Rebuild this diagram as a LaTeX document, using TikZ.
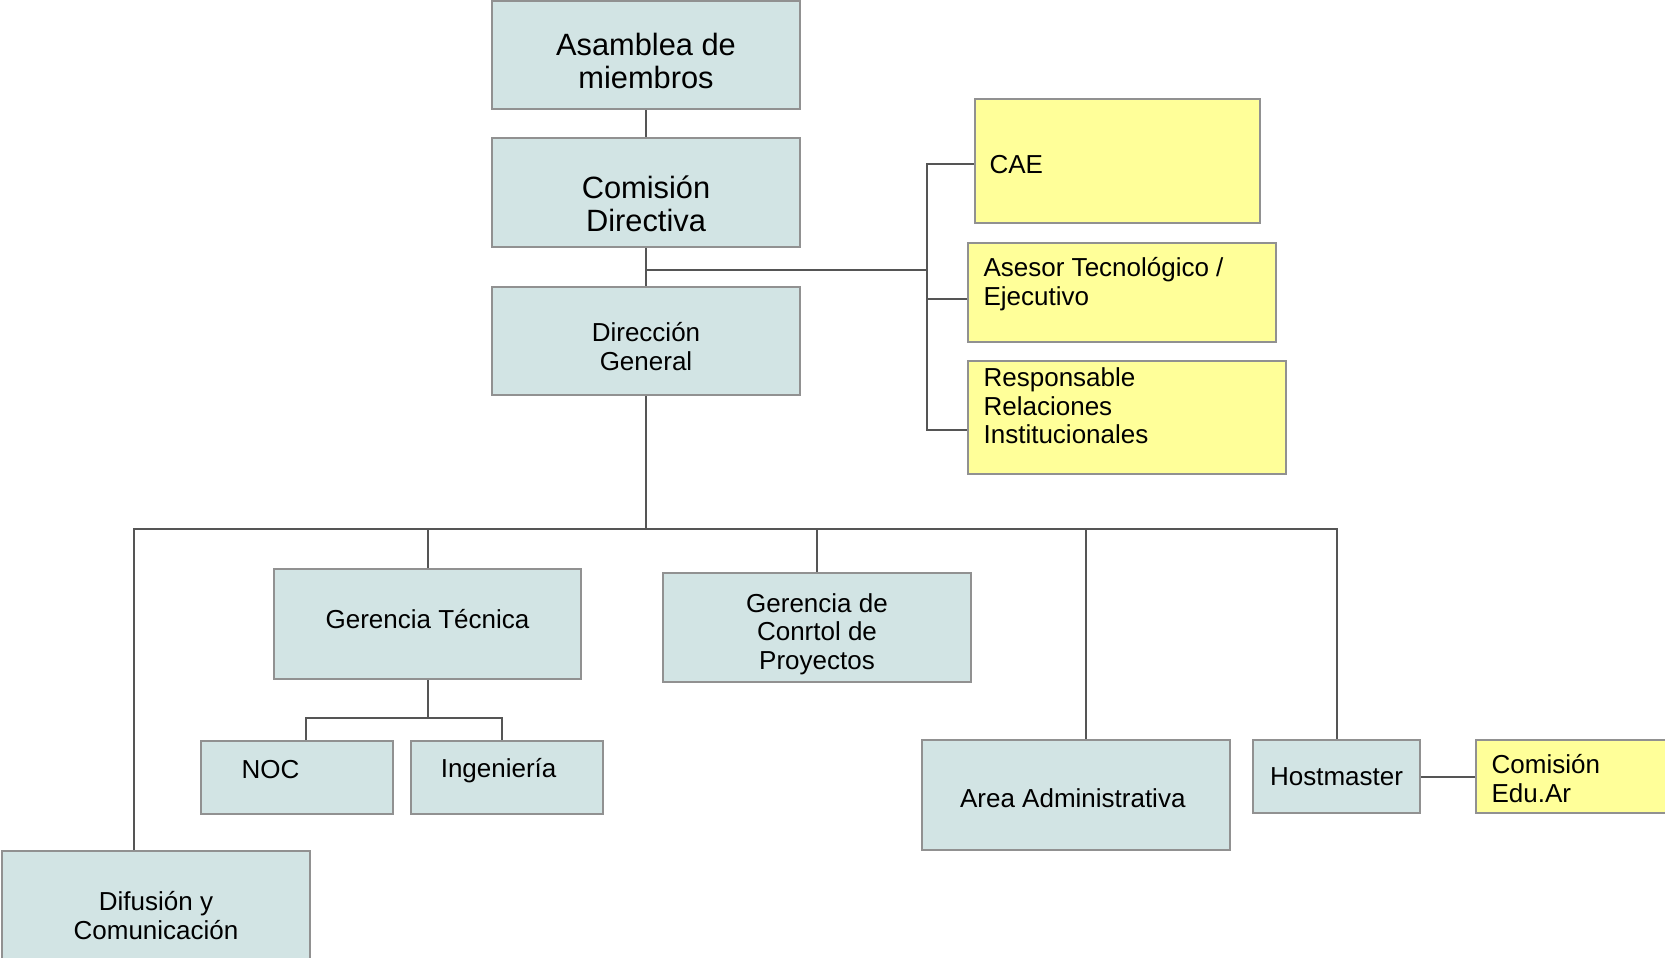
\documentclass[tikz,border=0pt]{standalone}
\usepackage{fontspec}
\setmainfont{Liberation Sans}
\definecolor{cajagris}{RGB}{210,228,228}
\definecolor{cajaamar}{RGB}{255,255,153}
\definecolor{borde}{RGB}{145,145,145}
\definecolor{linea}{RGB}{85,85,85}
\tikzset{
  caja/.style={rectangle,draw=borde,line width=0.8pt,fill=cajagris,inner sep=0pt},
  nota/.style={caja,fill=cajaamar},
  texto/.style={align=center,inner sep=0pt,font=\fontsize{13}{14.3}\selectfont},
  textogrande/.style={texto,font=\fontsize{15.4}{16.5}\selectfont},
  textonota/.style={texto,align=left,anchor=west},
  enlace/.style={draw=linea,line width=1pt},
}
\begin{document}
\begin{tikzpicture}[x=0.5pt,y=-0.5pt]
\clip (0,0) rectangle (1665,958);
\useasboundingbox (0,0) rectangle (1665,958);
% cajas
\node[caja,minimum width=154pt,minimum height=54pt] (asamblea) at (646,55) {};
\node[caja,minimum width=154pt,minimum height=54.5pt] (comision) at (646,192.5) {};
\node[caja,minimum width=154pt,minimum height=54pt] (direccion) at (646,341) {};
\node[nota,minimum width=142.5pt,minimum height=62pt] (cae) at (1117.5,161) {};
\node[nota,minimum width=154pt,minimum height=49.5pt] (asesor) at (1122,292.5) {};
\node[nota,minimum width=159pt,minimum height=56.5pt] (respons) at (1127,417.5) {};
\node[caja,minimum width=153.5pt,minimum height=55pt] (gtec) at (427.5,624) {};
\node[caja,minimum width=154pt,minimum height=54.5pt] (gcont) at (817,627.5) {};
\node[caja,minimum width=96pt,minimum height=36.5pt] (noc) at (297,777.5) {};
\node[caja,minimum width=96pt,minimum height=36.5pt] (ingen) at (507,777.5) {};
\node[caja,minimum width=154pt,minimum height=55pt] (area) at (1076,795) {};
\node[caja,minimum width=83.5pt,minimum height=36.5pt] (host) at (1336.5,776.5) {};
\node[nota,minimum width=105pt,minimum height=36.5pt] (edu) at (1581,776.5) {};
\node[caja,minimum width=154pt,minimum height=55pt] (difusion) at (156,906) {};

% textos
\node[textogrande] (asambleaT) at ([yshift=-3.2pt]asamblea.center) {Asamblea de\\miembros};
\node[textogrande] (comisionT) at ([yshift=-5.8pt]comision.center) {Comisión\\Directiva};
\node[texto] (direccionT) at ([yshift=-2.7pt]direccion.center) {Dirección\\General};
\node[textonota] (caeT) at ([xshift=7.5pt,yshift=-1.6pt]cae.west) {CAE};
\node[textonota] (asesorT) at ([xshift=8pt,yshift=4.2pt]asesor.west) {Asesor Tecnológico /\\Ejecutivo};
\node[textonota] (responsT) at ([xshift=8pt,yshift=5.8pt]respons.west) {Responsable\\Relaciones\\Institucionales};
\node[texto] (gtecT) at ([yshift=2.7pt]gtec.center) {Gerencia Técnica};
\node[texto] (gcontT) at ([yshift=-3.2pt]gcont.center) {Gerencia de\\Conrtol de\\Proyectos};
\node[textonota] (nocT) at ([xshift=20.5pt,yshift=4.2pt]noc.west) {NOC};
\node[texto] (ingenT) at ([xshift=-4.2pt,yshift=3.2pt]ingen.center) {Ingeniería};
\node[texto] (areaT) at ([xshift=-1.6pt,yshift=-1.6pt]area.center) {Area Administrativa};
\node[texto] (hostT) at (host.center) {Hostmaster};
\node[textonota] (eduT) at ([xshift=8pt,yshift=-1pt]edu.west) {Comisión\\Edu.Ar};
\node[texto] (difusionT) at ([yshift=-4.8pt]difusion.center) {Difusión y\\Comunicación};

\coordinate (lateral) at (927,270);
\coordinate (barra) at (642,529);
\coordinate (subbarra) at (429,718);

% conexiones
\draw[enlace] (asamblea) -- (comision);
\draw[enlace] (comision) -- (direccion);
\draw[enlace] (comision.south |- lateral) -- (lateral);
\draw[enlace] ([yshift=-1.6pt]cae.west) -| (lateral) |- ([yshift=-6pt]respons.west);
\draw[enlace] ([yshift=-3pt]asesor.west) -- ([yshift=-3pt]asesor.west -| lateral);
\draw[enlace] (direccion) -- (direccion.south |- barra);
\draw[enlace] ([xshift=-11pt]difusion.north) |- (barra) -| (host.north);
\draw[enlace] (gtec.north) -- (gtec.north |- barra);
\draw[enlace] (gcont.north) -- (gcont.north |- barra);
\draw[enlace] ([xshift=5pt]area.north) -- ([xshift=5pt]area.north |- barra);
\draw[enlace] (gtec) -- (gtec.south |- subbarra);
\draw[enlace] ([xshift=4.5pt]noc.north) |- (subbarra) -| ([xshift=-2.5pt]ingen.north);
\draw[enlace] (host) -- (edu);
\end{tikzpicture}
\end{document}
